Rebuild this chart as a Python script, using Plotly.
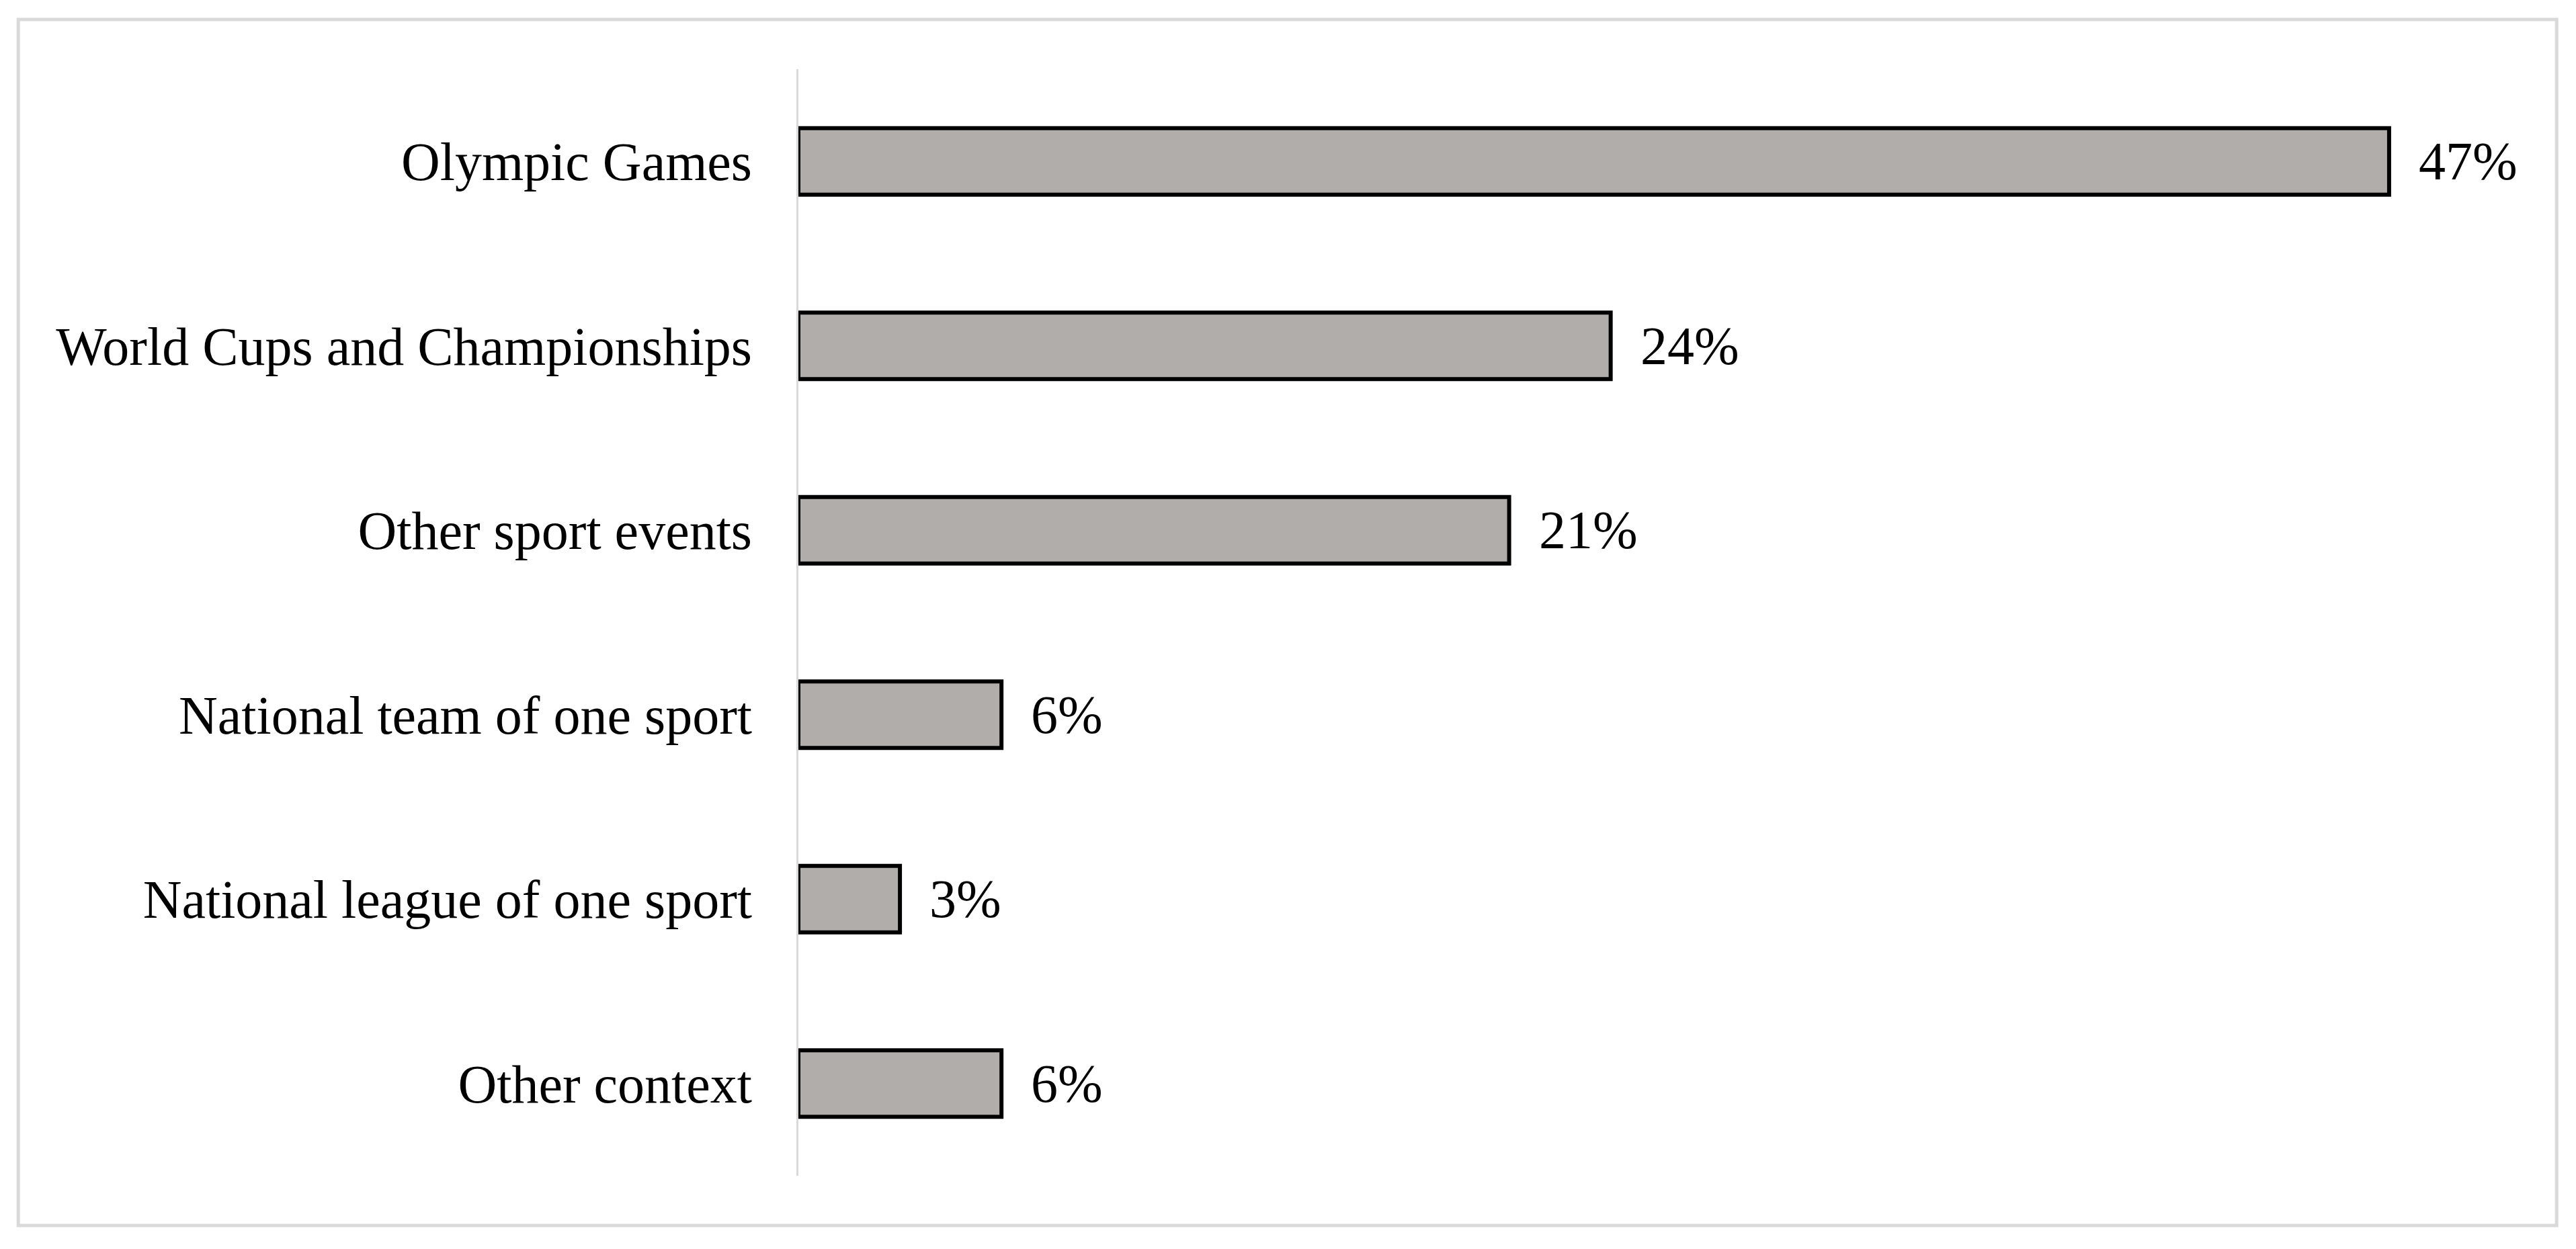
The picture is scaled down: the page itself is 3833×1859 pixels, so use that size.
import plotly.graph_objects as go

# survey shares by context
categories = [
    "Olympic Games",
    "World Cups and Championships",
    "Other sport events",
    "National team of one sport",
    "National league of one sport",
    "Other context",
]
shares = [47, 24, 21, 6, 3, 6]
share_labels = ["47%", "24%", "21%", "6%", "3%", "6%"]

font_family = "Liberation Serif, Times New Roman, serif"

fig = go.Figure()
fig.add_trace(go.Bar(
    x=shares,
    y=categories,
    orientation="h",
    width=0.36,
    marker=dict(color="#b1adaa", line=dict(color="black", width=6)),
    hoverinfo="x+y",
))

# value labels to the right of each bar
for cat, val, lab in zip(categories, shares, share_labels):
    fig.add_annotation(
        x=val, y=cat, text=lab, showarrow=False,
        xanchor="left", xshift=42,
        font=dict(family=font_family, size=80, color="black"),
    )

# light grey frame around the whole chart
fig.add_shape(
    type="rect", xref="paper", yref="paper",
    x0=-0.461, x1=1.039, y0=-0.045, y1=1.045,
    line=dict(color="#d9d9d9", width=5), layer="below",
)

# page body adds ~8px offset, so margins are shifted to compensate
fig.update_layout(
    width=3833,
    height=1859,
    margin=dict(l=1180, r=135, t=95, b=117),
    plot_bgcolor="white",
    paper_bgcolor="white",
    showlegend=False,
    font=dict(family=font_family, size=80, color="black"),
)
fig.update_xaxes(range=[0, 50], visible=False, showgrid=False, zeroline=False)
fig.update_yaxes(
    autorange="reversed",
    showgrid=False,
    zeroline=False,
    showline=True,
    linecolor="#d9d9d9",
    linewidth=3,
    ticks="",
    ticklabelstandoff=50,
    tickfont=dict(family=font_family, size=80, color="black"),
)

fig.write_html("out.html")
